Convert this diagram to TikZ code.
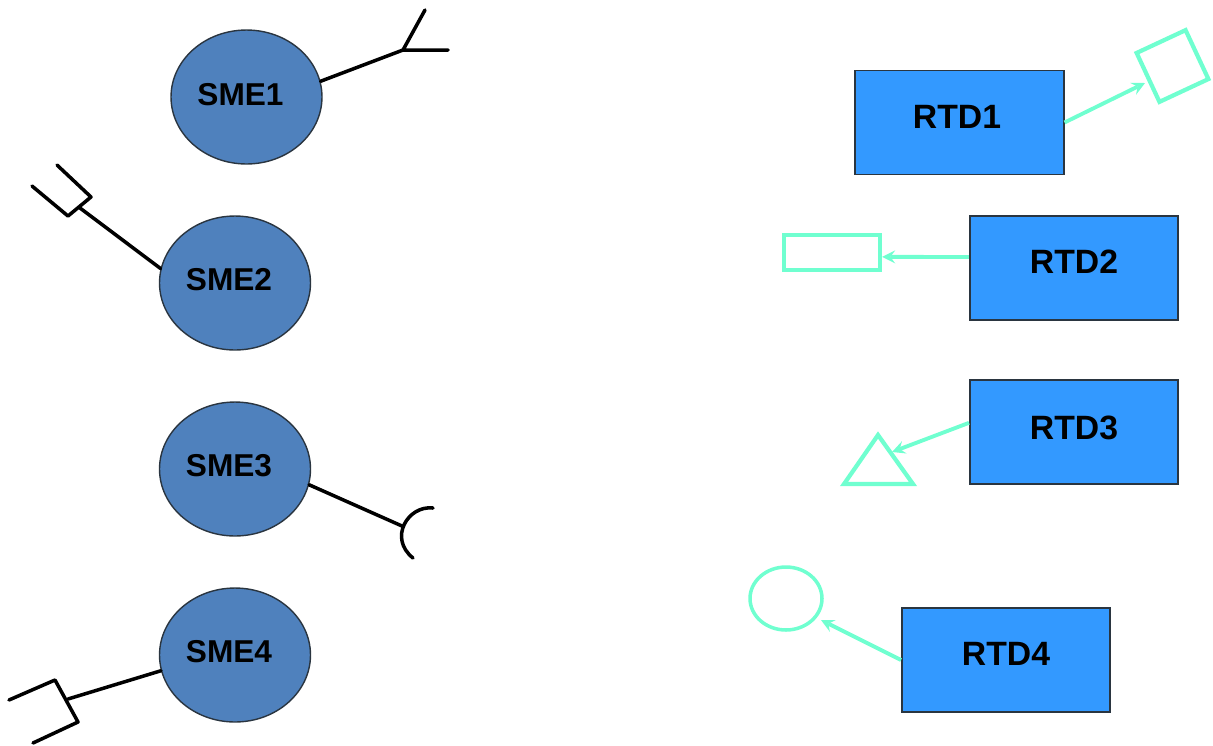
\documentclass[tikz,border=0pt]{standalone}
\usepackage{tikz}
\usetikzlibrary{arrows}
\usetikzlibrary{shapes.geometric}
\usepackage{xcolor}
\usepackage{fontspec}
\setmainfont{Liberation Sans}
\definecolor{smeblue}{HTML}{4F81BD}
\definecolor{rtdblue}{HTML}{3399FF}
\definecolor{aqua}{HTML}{70FFD0}
\definecolor{edge}{HTML}{2A3540}
\tikzset{
    smeball/.style={draw=edge,fill=smeblue,ellipse,line width=0.8pt,minimum width=3.02cm,minimum height=2.68cm},
    rtdbox/.style={draw=edge,fill=rtdblue,rectangle,line width=0.9pt,minimum width=4.17cm,minimum height=2.08cm},
    smetext/.style={inner sep=0pt,font=\fontsize{18}{20}\selectfont\bfseries},
    rtdtext/.style={inner sep=0pt,font=\fontsize{19.2}{20}\selectfont\bfseries},
    plug/.style={line width=2pt,black,line join=round,line cap=round},
    shapeline/.style={draw=aqua,line width=2.4pt},
    feed/.style={aqua,line width=2.2pt,-stealth}
}
\begin{document}
\begin{tikzpicture}[x=0.02cm,y=-0.02cm]
    \useasboundingbox (0,0) rectangle (1213,745);
    \node[smeball] (sme1) at (246.5,97) {};
    \node[smeball] (sme2) at (235,283) {};
    \node[smeball] (sme3) at (235,469) {};
    \node[smeball] (sme4) at (235,655) {};
    \node[smetext] (sme1text) at (240.5,95) {SME1};
    \node[smetext] (sme2text) at (229,280) {SME2};
    \node[smetext] (sme3text) at (229,466) {SME3};
    \node[smetext] (sme4text) at (229,652) {SME4};
    \coordinate (fork1) at (403,50);
    \coordinate (fork2) at (80,208);
    \coordinate (fork3) at (402,526);
    \coordinate (fork4) at (68,699);
    \draw[plug] (sme1.12) -- (fork1);
    \draw[plug] (425,10) -- (fork1) -- (448,50);
    \draw[plug] (sme2.169) -- (fork2);
    \draw[plug] (57,165) -- (91,197) -- (68,216) -- (32,186);
    \draw[plug] (sme3.-12) -- (fork3);
    \draw[plug] (433,508) .. controls (408,505) and (388,538) .. (413,558);
    \draw[plug] (sme4.192) -- (fork4);
    \draw[plug] (9,700) -- (55,680) -- (78,722) -- (33,743);
    \node[rtdbox] (rtd1) at (959.5,122.5) {};
    \node[rtdbox] (rtd2) at (1074,268) {};
    \node[rtdbox] (rtd3) at (1074,432) {};
    \node[rtdbox] (rtd4) at (1006,660) {};
    \node[rtdtext] (rtd1text) at (957,117) {RTD1};
    \node[rtdtext] (rtd2text) at (1074,262) {RTD2};
    \node[rtdtext] (rtd3text) at (1074,428) {RTD3};
    \node[rtdtext] (rtd4text) at (1006,654) {RTD4};
    \node[shapeline,rectangle,rotate=25,minimum width=1.08cm,minimum height=1.08cm] (square) at (1172.5,66) {};
    \node[shapeline,rectangle,minimum width=1.92cm,minimum height=0.7cm] (bar) at (832,252.5) {};
    \draw[shapeline,line join=miter] (878,435) -- (844,484) -- (913,484) -- cycle;
    \node[shapeline,ellipse,line width=2pt,minimum width=1.44cm,minimum height=1.26cm] (ring) at (786,598.5) {};
    \coordinate (tip1) at (1145,83);
    \coordinate (tip3) at (892,452);
    \coordinate (tip4) at (821,620);
    \draw[feed] (rtd1.east) -- (tip1);
    \draw[feed] (rtd2.174) -- (bar.-5);
    \draw[feed] (rtd3.175) -- (tip3);
    \draw[feed] (rtd4.west) -- (tip4);
\end{tikzpicture}
\end{document}
